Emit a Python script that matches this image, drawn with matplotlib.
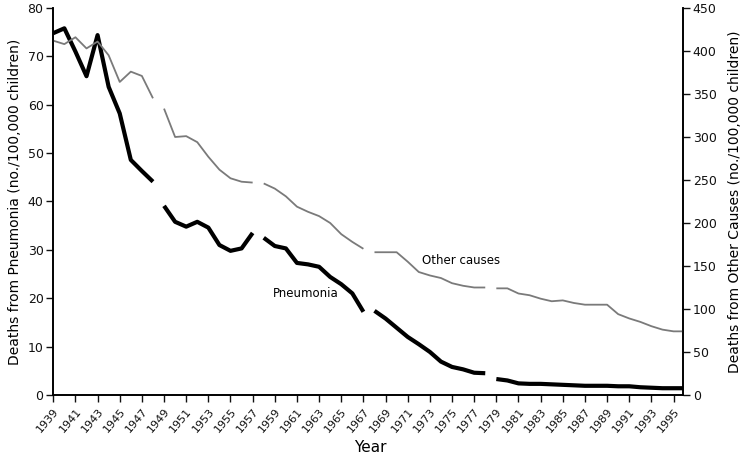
import numpy as np
import matplotlib
matplotlib.use("Agg")
import matplotlib.pyplot as plt

years = list(range(1939, 1997))

# deaths from pneumonia (no./100,000 children), left axis
pneumonia = [74.8, 75.8, 71.0, 65.9, 74.4, 63.7, 58.2, 48.6, 46.3, 44.1,
             39.1, 35.8, 34.8, 35.8, 34.6, 31.0, 29.8, 30.3, 33.5,
             32.5, 30.8, 30.3, 27.3, 27.0, 26.5, 24.4, 22.9, 21.0, 17.2,
             17.4, 15.8, 13.9, 12.0, 10.5, 8.9, 6.9, 5.8, 5.3, 4.6, 4.5,
             3.3, 3.0, 2.4, 2.3, 2.3, 2.2, 2.1, 2.0, 1.9, 1.9, 1.9, 1.8, 1.8, 1.6, 1.5, 1.4, 1.4, 1.4]

# deaths from other causes (no./100,000 children), right axis
other = [412, 408, 416, 403, 411, 395, 364, 376, 371, 345,
         333, 300, 301, 294, 277, 262, 252, 248, 247,
         246, 240, 231, 219, 213, 208, 200, 187, 178, 170,
         166, 166, 166, 155, 143, 139, 136, 130, 127, 125, 125,
         124, 124, 118, 116, 112, 109, 110, 107, 105, 105, 105, 94, 89, 85, 80, 76, 74, 74]

# last year of each plotted segment (the series has breaks)
segment_ends = [1948, 1957, 1967, 1978, 1996]

years = np.array(years)
pneumonia = np.array(pneumonia)
other = np.array(other)

fig = plt.figure(figsize=(7.43, 4.55), dpi=100)
ax = fig.add_axes([0.0717, 0.1319, 0.8475, 0.8505])
ax2 = ax.twinx()

start = years[0]
for end in segment_ends:
    m = (years >= start) & (years <= end)
    ax.plot(years[m], pneumonia[m], color='black', lw=3.0, solid_capstyle='butt', zorder=3)
    ax2.plot(years[m], other[m], color='#7a7a7a', lw=1.3, solid_capstyle='butt')
    start = end + 1

ax.set_xlim(1939, 1995.85)
ax.set_ylim(0, 80)
ax2.set_ylim(0, 450)
ax.set_yticks(range(0, 81, 10))
ax2.set_yticks(range(0, 451, 50))
ax.set_xticks(range(1939, 1996, 2))
ax.set_xticklabels([str(y) for y in range(1939, 1996, 2)], rotation=50,
                   ha='right', rotation_mode='anchor')

for a in (ax, ax2):
    a.spines['top'].set_visible(False)
    a.tick_params(labelsize=9, length=5, width=1, direction='out', colors='#111111', pad=2)
    for s in a.spines.values():
        s.set_linewidth(1.2)
ax.tick_params(axis='x', labelsize=8, pad=3)

fig.text(370 / 743, 1 - 448 / 455, 'Year', fontsize=11, ha='center', va='center')
ax.set_ylabel('Deaths from Pneumonia (no./100,000 children)', fontsize=10, labelpad=4)
ax2.set_ylabel('Deaths from Other Causes (no./100,000 children)', fontsize=10, labelpad=8)

ax.text(1958.8, 20.9, 'Pneumonia', fontsize=8.5, va='center', ha='left')
ax.text(1972.3, 27.7, 'Other causes', fontsize=8.5, va='center', ha='left')

fig.savefig('out.png', dpi=100)
